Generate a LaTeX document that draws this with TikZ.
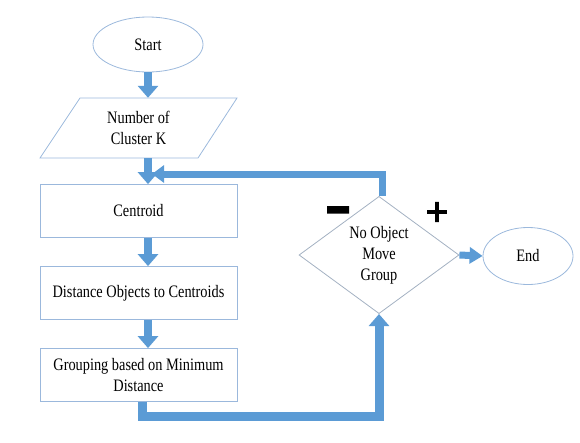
\documentclass[tikz,border=0pt]{standalone}
\usepackage{fontspec}
\setmainfont{Liberation Serif}[FakeStretch=0.82]
\newfontfamily\signfont{DejaVu Sans}[FakeBold=4]
\usetikzlibrary{shapes.geometric,arrows.meta}
\definecolor{arrowblue}{HTML}{5B9BD5}
\definecolor{edgeblue}{HTML}{9BB8DC}
\definecolor{edgegray}{HTML}{A3B1C2}
\tikzset{
  every node/.style={font=\fontsize{17.5pt}{21pt}\selectfont, align=center, inner sep=0pt},
  box/.style={draw=edgeblue, line width=0.8pt, rectangle, minimum width=197pt, minimum height=53pt},
  oval/.style={draw=edgeblue, line width=0.8pt, ellipse},
  decision/.style={draw=edgegray, line width=0.8pt, diamond, minimum width=160pt, minimum height=106pt},
  blockarrow/.style={draw=arrowblue, line width=8pt, line join=miter,
     -{Triangle[width=20pt,length=12pt]}, arrowblue},
  sign/.style={font=\signfont\fontsize{30pt}{30pt}\selectfont, text=black}
}
\begin{document}
\begin{tikzpicture}[x=1pt,y=-1pt]
\useasboundingbox (0,0) rectangle (580,442);
\node[oval, minimum width=110pt, minimum height=55pt] (start) at (148,44.5) {Start};
\node[minimum width=197pt, minimum height=60pt] (para) at (138.5,128) {Number of\\Cluster K};
\draw[edgeblue, line width=0.8pt] (40,158) -- (198,158) -- (237,98) -- (80,98) -- cycle;
\node[box] (cen) at (138.5,211) {Centroid};
\node[box] (dist) at (138.5,293) {Distance Objects to Centroids};
\node[box] (grp) at (138.5,375) {Grouping based on Minimum\\Distance};
\node[decision] (dia) at (379,255) {No Object\\Move\\Group};
\node[oval, minimum width=90pt, minimum height=57pt] (end) at (528,256) {End};
\node[sign] (minus) at (338,218) {\scalebox{1.1}[2]{−}};
\node[sign] (plus) at (437,212) {+};
\coordinate (fb) at (152,174);
\draw[blockarrow] (start.south) -- (start.south |- para.north);
\draw[blockarrow] (start.south |- para.south) -- (start.south |- cen.north);
\draw[blockarrow] (start.south |- cen.south) -- (start.south |- dist.north);
\draw[blockarrow] (start.south |- dist.south) -- (start.south |- grp.north);
\draw[blockarrow, line width=7pt, -{Triangle[width=17pt,length=12pt]}] ([xshift=3pt]dia.north) |- (fb);
\draw[blockarrow, line width=9pt, -{Triangle[width=20pt,length=12pt]}] ([xshift=4pt]grp.south) -- ++(0,15) -| (dia.south);
\draw[blockarrow, line width=7pt, -{Triangle[width=16pt,length=13pt]}] (dia.east) -- (end.west);
\end{tikzpicture}
\end{document}
